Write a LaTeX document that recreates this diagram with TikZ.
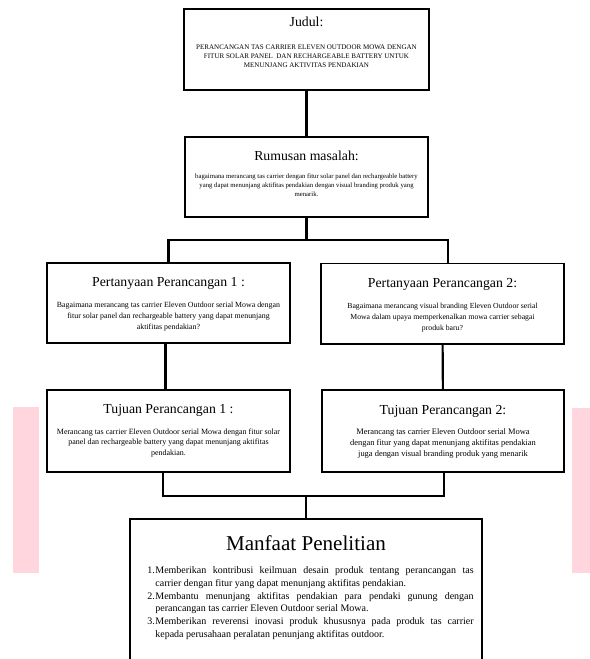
\documentclass[tikz,border=0pt]{standalone}
\usepackage{fontspec}
\setmainfont{Liberation Serif}
\usetikzlibrary{calc}
\definecolor{watermark}{RGB}{255,214,221}

\begin{document}
\begin{tikzpicture}[x=0.025cm, y=-0.025cm,
    box/.style={draw, line width=1.4pt, inner sep=0pt},
    link/.style={line width=1.5pt}]
    \long\def\boxtext#1#2#3#4#5#6{%
        \begin{minipage}[c][#2][t]{#1}\centering
            \rule{0pt}{#3}{\fontsize{9.8}{12}\selectfont #4}\par
            \vspace{#5}#6
        \end{minipage}%
    }

    \useasboundingbox (0,0) rectangle (590,659);
    \clip (0,0) rectangle (590,659);

    % pink strips at the sides
    \fill[watermark] (13,407) rectangle (39,573);
    \fill[watermark] (572,408) rectangle (590,573);

    \node[box] (judul) at (306.5,49.5) {\boxtext{6.125cm}{2.025cm}{12.5pt}{Judul:}{10.2pt}{%
        \fontsize{5}{6.4}\selectfont
        PERANCANGAN TAS CARRIER ELEVEN OUTDOOR MOWA DENGAN\\
        FITUR SOLAR PANEL\ \ DAN RECHARGEABLE BATTERY UNTUK\\
        MENUNJANG AKTIVITAS PENDAKIAN}};

    \node[box] (rumusan) at (306.5,177) {\boxtext{6.075cm}{2cm}{17pt}{Rumusan masalah:}{6.3pt}{%
        \fontsize{4.8}{6.4}\selectfont
        bagaimana merancang tas carrier dengan fitur solar panel dan rechargeable battery\\
        yang dapat menunjang aktifitas pendakian dengan visual branding produk yang\\
        menarik.}};

    \node[box] (tanya1) at (168.5,303) {\boxtext{6.075cm}{2cm}{16.8pt}{Pertanyaan Perancangan 1 :}{6.5pt}{%
        \fontsize{5.6}{8.1}\selectfont
        Bagaimana merancang tas carrier Eleven Outdoor serial Mowa dengan\\
        fitur solar panel dan rechargeable battery yang dapat menunjang\\
        aktifitas pendakian?}};

    \node[box] (tanya2) at (442.5,303.5) {\boxtext{6.05cm}{2cm}{16.8pt}{Pertanyaan Perancangan 2:}{7.3pt}{%
        \fontsize{5.5}{7.8}\selectfont
        Bagaimana merancang visual branding Eleven Outdoor serial\\
        Mowa dalam upaya memperkenalkan mowa carrier sebagai\\
        produk baru?}};

    \node[box] (tujuan1) at (168.5,431) {\boxtext{6.075cm}{2.05cm}{16.5pt}{Tujuan Perancangan 1 :}{7.7pt}{%
        \fontsize{5.7}{7.4}\selectfont
        Merancang tas carrier Eleven Outdoor serial Mowa dengan fitur solar\\
        panel dan rechargeable battery yang dapat menunjang aktifitas\\
        pendakian.}};

    \node[box] (tujuan2) at (443,431) {\boxtext{6.05cm}{2.05cm}{17.2pt}{Tujuan Perancangan 2:}{6.1pt}{%
        \fontsize{6}{8.1}\selectfont
        Merancang tas carrier Eleven Outdoor serial Mowa\\
        dengan fitur yang dapat menunjang aktifitas pendakian\\
        juga dengan visual branding produk yang menarik}};

    % box runs past the bottom edge
    \node[box] (manfaat) at (306,604) {\boxtext{8.8cm}{4.25cm}{22.5pt}{\fontsize{15}{18}\selectfont Manfaat Penelitian}{7.6pt}{%
        \fontsize{7.1}{9}\selectfont
        \hspace*{6.4pt}\begin{minipage}[t]{232pt}
            \hangindent=5.7pt\hangafter=1\makebox[5.7pt][l]{1.}Memberikan kontribusi keilmuan desain produk tentang perancangan tas\linebreak
            carrier dengan fitur yang dapat menunjang aktifitas pendakian.\par
            \hangindent=5.7pt\hangafter=1\makebox[5.7pt][l]{2.}Membantu menunjang aktifitas pendakian para pendaki gunung dengan\linebreak
            perancangan tas carrier Eleven Outdoor serial Mowa.\par
            \hangindent=5.7pt\hangafter=1\makebox[5.7pt][l]{3.}Memberikan reverensi inovasi produk khususnya pada produk tas carrier\linebreak
            kepada perusahaan peralatan penunjang aktifitas outdoor.
        \end{minipage}}};

    % connectors
    \draw[link] (judul) -- (rumusan);

    \draw[link] (rumusan.south) -- ++(0,22) coordinate (fork1);
    \draw[link] (tanya1.north) |- (fork1) -| ($(tanya2.north)+(5.5,0)$);

    \draw[link] ($(tanya1.south)+(-3,0)$) -- ($(tujuan1.north)+(-3,0)$);
    \draw[link] (tanya2) -- (tujuan2);

    \draw[link] (manfaat.north) -- ++(0,-22) coordinate (fork2);
    \draw[link] ($(tujuan1.south)+(-5.5,0)$) |- (fork2) -| ($(tujuan2.south)+(1,0)$);
\end{tikzpicture}
\end{document}
